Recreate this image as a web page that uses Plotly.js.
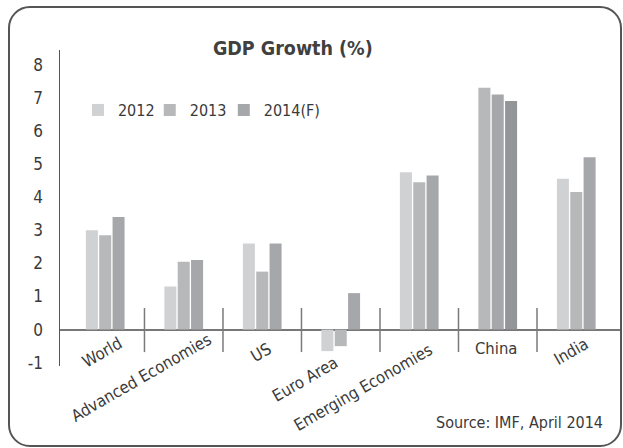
<!DOCTYPE html>
<html>
<head>
<meta charset="utf-8">
<script src="https://cdn.plot.ly/plotly-3.0.1.min.js"></script>
<style>
  html, body { margin: 0; padding: 0; background: #ffffff; }
  #wrap { position: relative; width: 623px; height: 448px; overflow: hidden; }
  #chart { position: absolute; left: 0; top: 0; width: 623px; height: 448px; }
  #frame { position: absolute; left: 8px; top: 6px; width: 614px; height: 441px;
           box-sizing: border-box; border: 2px solid #555; border-radius: 22px; pointer-events: none; }
</style>
</head>
<body>
<div id="wrap">
  <div id="chart"></div>
  <div id="frame"></div>
</div>
<script>
// ---- data ----
const categories = ["World", "Advanced Economies", "US", "Euro Area", "Emerging Economies", "China", "India"];
const seriesNames = ["2012", "2013", "2014(F)"];
const growth2012 = [3.0, 1.3, 2.6, -0.65, 4.75, 7.3, 4.55];
const growth2013 = [2.85, 2.05, 1.75, -0.5, 4.45, 7.1, 4.15];
const growth2014 = [3.4, 2.1, 2.6, 1.1, 4.65, 6.9, 5.2];
const yTickValues = [-1, 0, 1, 2, 3, 4, 5, 6, 7, 8];
const yTickLabels = ["-1", "0", "1", "2", "3", "4", "5", "6", "7", "8"];

// ---- style ----
const FONT = '"Liberation Sans Narrow", "DejaVu Sans Condensed", "Roboto", sans-serif';
const seriesColors = ["#d0d1d3", "#b7b8ba", "#a6a7aa"];
const darkerColors = ["#b7b8ba", "#a6a7aa", "#949598"]; // China group is shaded darker
const darkCategory = "China";
// label placement (pixel offsets from category centre at zero line), angle
const labelOffsets = [[-3, 23], [-42, 48], [-1, 23], [-36, 50], [-56, 58], [-2, 19], [-5, 22]];
const labelAngles = [-30, -30, -30, -30, -30, 0, -30];
// legend entry positions (paper x)
const legendX = [0.032, 0.160, 0.292];
const legendIds = ["legend", "legend2", "legend3"];

const allSeries = [growth2012, growth2013, growth2014];
const traces = allSeries.map((vals, s) => ({
  type: "bar",
  name: seriesNames[s],
  legend: legendIds[s],
  x: categories,
  y: vals,
  marker: {
    color: categories.map(c => c === darkCategory ? darkerColors[s] : seriesColors[s]),
    line: { width: 0 }
  },
  hoverinfo: "x+y+name"
}));

const separators = categories.slice(0, -1).map((c, i) => ({
  type: "line", xref: "x", yref: "y",
  x0: i + 0.5, x1: i + 0.5, y0: -0.68, y1: 0.65,
  line: { color: "#7a7a7a", width: 1.5 }
}));

const catLabels = categories.map((c, i) => ({
  xref: "x", yref: "y", x: i, y: 0,
  text: c, showarrow: false,
  xanchor: "center", yanchor: "middle",
  xshift: labelOffsets[i][0], yshift: -labelOffsets[i][1],
  textangle: labelAngles[i],
  font: { family: FONT, size: 16.5, color: "#3a3a3a" }
}));

const sourceNote = {
  xref: "paper", yref: "paper", x: 0.972, y: -0.18,
  xanchor: "right", yanchor: "middle", showarrow: false,
  text: "Source: IMF, April 2014",
  font: { family: FONT, size: 16, color: "#3a3a3a" }
};

const layout = {
  width: 623, height: 448,
  margin: { l: 60, r: 2, t: 50, b: 82, pad: 0 },
  paper_bgcolor: "rgba(0,0,0,0)",
  plot_bgcolor: "rgba(0,0,0,0)",
  font: { family: FONT, size: 17, color: "#3a3a3a" },
  title: {
    text: "<b>GDP Growth (%)</b>",
    xref: "container", yref: "container",
    x: 0.47, y: 0.893, xanchor: "center", yanchor: "middle",
    font: { family: FONT, size: 19.5, color: "#404040" }
  },
  barmode: "group",
  bargap: 0.49,
  bargroupgap: 0.1,
  showlegend: true,
  xaxis: {
    type: "category",
    range: [-0.576, 6.57],
    showticklabels: false,
    ticks: "",
    showline: false,
    showgrid: false,
    zeroline: false,
    fixedrange: true
  },
  yaxis: {
    range: [-1.1, 8.44],
    tickmode: "array",
    tickvals: yTickValues,
    ticktext: yTickLabels,
    ticks: "",
    ticklabelstandoff: 12,
    showline: true,
    linecolor: "#555",
    linewidth: 1.5,
    showgrid: false,
    zeroline: true,
    zerolinecolor: "#777",
    zerolinewidth: 2,
    tickfont: { family: FONT, size: 17, color: "#3a3a3a" },
    fixedrange: true
  },
  shapes: separators,
  annotations: catLabels.concat([sourceNote])
};

legendIds.forEach((id, s) => {
  layout[id] = {
    orientation: "h",
    x: legendX[s], y: 0.81, xanchor: "left", yanchor: "middle",
    font: { family: FONT, size: 16, color: "#3a3a3a" },
    bgcolor: "rgba(0,0,0,0)",
    itemwidth: 30
  };
});

Plotly.newPlot("chart", traces, layout, { displayModeBar: false, staticPlot: true });
</script>
</body>
</html>
